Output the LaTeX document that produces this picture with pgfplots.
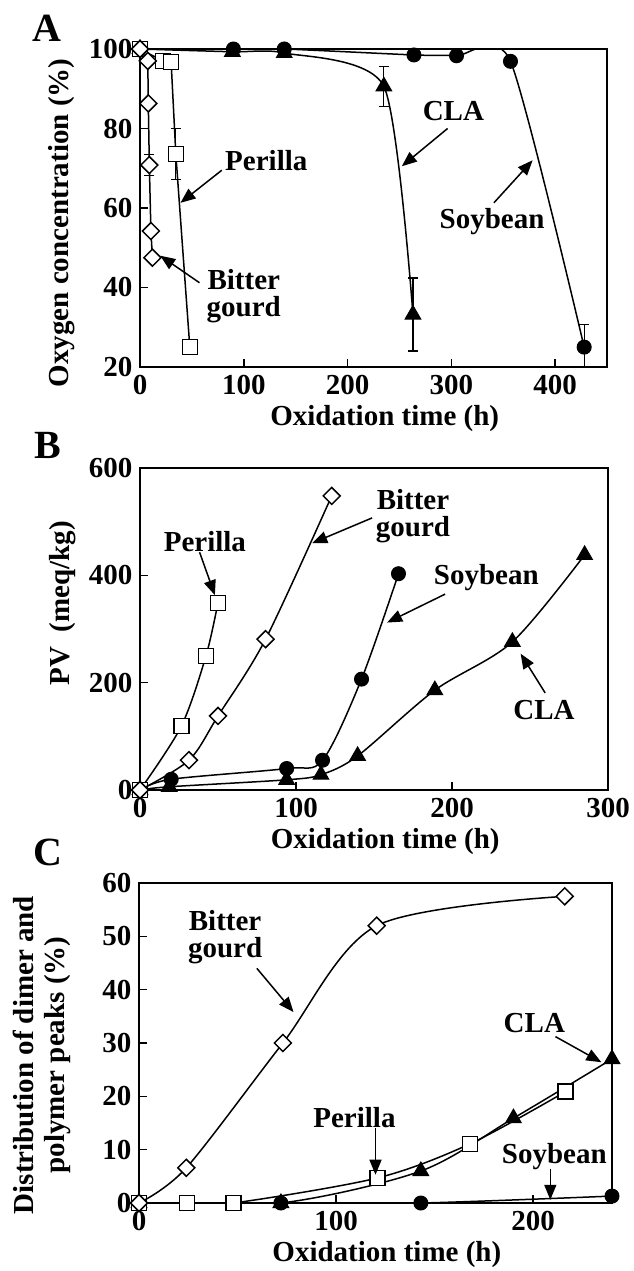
\documentclass[border=0pt]{standalone}
\usepackage{fontspec}
\setmainfont{Liberation Serif}
\usepackage{pgfplots}
\pgfplotsset{compat=1.18}
\usetikzlibrary{arrows.meta}

\newcommand{\lf}{\bfseries\fontsize{29}{27}\selectfont}

\tikzset{arr/.style={line width=1.5pt, -{Triangle[length=15pt,width=12pt]}}}

\pgfplotsset{
  myax/.style={
    scale only axis,
    axis line style={line width=2pt},
    tick align=inside, xtick pos=bottom, ytick pos=left,
    major tick length=8pt,
    every tick/.style={line width=1.5pt, black},
    /pgf/number format/assume math mode=true,
    ticklabel style={font=\lf},
    label style={font=\lf},
    xticklabel style={yshift=-5pt},
    yticklabel style={xshift=-4pt},
    xlabel style={at={(axis description cs:0.524,0)}, anchor=center, yshift=-52pt},
    clip mode=individual,
  },
  ser/.style={line width=1.5pt, black},
  cla/.style={ser, mark=triangle*, mark size=9pt, mark options={solid, fill=black, line width=1pt}},
  soy/.style={ser, mark=*, mark size=7pt, mark options={solid, fill=black, line width=1pt}},
  per/.style={ser, mark=square*, mark size=7.5pt, mark options={solid, fill=white, line width=1.5pt}},
  bit/.style={ser, mark=square*, mark size=6pt, mark options={solid, fill=white, rotate=45, line width=1.5pt}},
  eb/.style={error bars/.cd, y dir=both, y explicit,
     error bar style={line width=1.2pt, black},
     error mark options={rotate=90, line width=1.2pt, mark size=5pt, black}},
}

\begin{document}
\begin{tikzpicture}
\useasboundingbox (0pt,0pt) rectangle (634pt,-1271pt);

% Panel letters
\node[font=\bfseries\fontsize{40}{40}\selectfont] at (47pt,-28pt) {A};
\node[font=\bfseries\fontsize{40}{40}\selectfont] at (48pt,-445pt) {B};
\node[font=\bfseries\fontsize{40}{40}\selectfont] at (48pt,-852pt) {C};

% ---------------- Panel A ----------------
\begin{axis}[myax, at={(140pt,-49pt)}, anchor=north west,
  width=467pt, height=318pt,
  xmin=0, xmax=450, ymin=20, ymax=100,
  xtick={0,100,200,300,400}, ytick={20,40,60,80,100},
  xlabel={Oxidation time (h)},
  ylabel={Oxygen concentration (\%)},
  ylabel style={at={(axis description cs:-0.167,0.453)}, anchor=center},
]
\addplot[cla, smooth, tension=0.4, eb] table[x=x, y=y, y error=e] {
x y e
0 100 0
89 99.3 0
139 99.0 0
235 90.6 5
263 33.2 9.2
};
\addplot[soy, smooth, tension=0.4, eb] table[x=x, y=y, y error=e] {
x y e
0 100 0
90 100 0
139 100 0
264 98.5 0
305 98.3 0
357 96.9 0
428 25 5.7
};
\addplot[per, eb] table[x=x, y=y, y error=e] {
x y e
0 100 0
22 97 0
30 96.7 0
34.5 73.6 6.5
48 25 0
};
\addplot[bit, eb] table[x=x, y=y, y error=e] {
x y e
0 100 0
7.5 97 0
8 86.3 0
9 70.8 2.6
10.5 54.2 0
12 47.5 0
};
\node[font=\lf] at (axis cs:302,84.4) {CLA};
\draw[arr] (axis cs:296.4,80.0) -- (axis cs:252.3,70.5);
\node[font=\lf] at (axis cs:121.7,72.0) {Perilla};
\draw[arr] (axis cs:78.8,69.5) -- (axis cs:39,61.3);
\node[font=\lf] at (axis cs:339.3,56.6) {Soybean};
\draw[arr] (axis cs:341,61.3) -- (axis cs:378.3,72.0);
\node[font=\lf, align=center] at (axis cs:100,37.8) {Bitter\\gourd};
\draw[arr] (axis cs:57.3,41.2) -- (axis cs:19.5,48.0);
\end{axis}

% ---------------- Panel B ----------------
\begin{axis}[myax, at={(140pt,-468pt)}, anchor=north west,
  width=468pt, height=322pt,
  xmin=0, xmax=300, ymin=0, ymax=600,
  xtick={0,100,200,300}, ytick={0,200,400,600},
  xlabel={Oxidation time (h)},
  ylabel={PV\ \ (meq/kg)},
  ylabel style={at={(axis description cs:-0.165,0.58)}, anchor=center},
]
\addplot[cla, smooth] table {
0 0
18.7 6
94 19
116 28.5
139.5 63.5
189 186
238.7 276
285 438
};
\addplot[soy, smooth] table {
0 0
20 20
94 40
117 55.5
142 206.6
165.7 403
};
\addplot[per, smooth] table {
0 0
26.5 119
42.3 250
49.9 348
};
\addplot[bit, smooth] table {
0 0
31.4 55.6
50 138
80.5 281
122.9 548
};
\node[font=\lf] at (axis cs:41.6,462) {Perilla};
\draw[arr] (axis cs:38.2,443) -- (axis cs:48,363);
\node[font=\lf, align=center] at (axis cs:175,511) {Bitter\\gourd};
\draw[arr] (axis cs:148.8,507) -- (axis cs:110.4,460);
\node[font=\lf] at (axis cs:222,395) {Soybean};
\draw[arr] (axis cs:195.6,365) -- (axis cs:158.4,312);
\node[font=\lf] at (axis cs:259,149) {CLA};
\draw[arr] (axis cs:259.7,181) -- (axis cs:244,254);
\end{axis}

% ---------------- Panel C ----------------
\begin{axis}[myax, at={(139pt,-883pt)}, anchor=north west,
  width=473pt, height=320pt,
  xmin=0, xmax=240, ymin=0, ymax=60,
  xtick={0,100,200}, ytick={0,10,20,30,40,50,60},
  xlabel={Oxidation time (h)},
  ylabel={Distribution of dimer and\\polymer peaks (\%)},
  ylabel style={at={(axis description cs:-0.206,0.4625)}, anchor=center, align=center, font=\bfseries\fontsize{29}{31}\selectfont},
]
\addplot[cla, smooth] table {
0 0
72 0
143 6
190 15.9
240 27
};
\addplot[soy, smooth] table {
0 0
72 0
143 0
240 1.3
};
\addplot[per, smooth] table {
0 0
24.3 0
48 0
121 4.7
168 11.1
216.5 20.9
};
\addplot[bit, smooth] table {
0 0
24 6.6
73 30
120.6 52
216 57.5
};
\node[font=\lf, align=center] at (axis cs:43.7,49.9) {Bitter\\gourd};
\draw[arr] (axis cs:59.8,44.0) -- (axis cs:78.4,35.8);
\node[font=\lf] at (axis cs:109.3,16.0) {Perilla};
\draw[arr] (axis cs:120,14) -- (axis cs:120,5.3);
\node[font=\lf] at (axis cs:200.6,33.7) {CLA};
\draw[arr] (axis cs:211.3,31.2) -- (axis cs:234.6,26.4);
\node[font=\lf] at (axis cs:210.7,8.8) {Soybean};
\draw[arr] (axis cs:208.7,6.3) -- (axis cs:208.7,0.6);
\end{axis}
\end{tikzpicture}
\end{document}
